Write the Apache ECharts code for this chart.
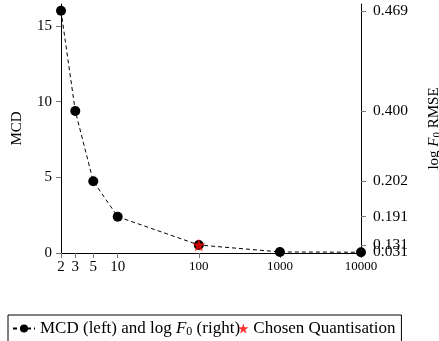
<!DOCTYPE html>
<html>
<head>
<meta charset="utf-8">
<script src="https://cdn.jsdelivr.net/npm/echarts@6/dist/echarts.min.js"></script>
<style>
  html, body { margin: 0; padding: 0; background: #fff; }
  #chart { width: 439px; height: 341px; }
</style>
</head>
<body>
<div id="chart"></div>
<script>
// quantisation levels and MCD per level
const levels = [2, 3, 5, 10, 100, 1000, 10000];
const mcd = [16.0, 9.38, 4.74, 2.4, 0.53, 0.07, 0.05];
const chosen = [[100, 0.53]];

// right axis: log F0 RMSE labels placed at MCD heights
const rmseTickAt = [16.0, 9.38, 4.74, 2.4, 0.53, 0.07];
const rmseLabels = ["0.469", "0.400", "0.202", "0.191", "0.131", "0.031"];

const xTicks = [2, 3, 5, 10, 100, 1000, 10000];
const leftTicks = [0, 5, 10, 15];

const font = "Liberation Serif";
const star = "path://M0,-1L0.2245,-0.309L0.951,-0.309L0.363,0.118L0.588,0.809L0,0.382L-0.588,0.809L-0.363,0.118L-0.951,-0.309L-0.2245,-0.309Z";
const tickStyle = { color: "#777", width: 1 };
const yMax = 16.45;
const subRich = (size) => ({
  t: { fontFamily: font, fontSize: size, color: "#000" },
  i: { fontFamily: font, fontSize: size, fontStyle: "italic", color: "#000" },
  s: { fontFamily: font, fontSize: Math.round(size * 0.7), color: "#000", verticalAlign: "bottom", padding: [7, 0, 0, 0] }
});

// the two lowest right-hand labels overlap; keep them on separate axes so neither gets dropped
function rmseAxis(ticks, withName) {
  return {
    type: "value",
    position: "right",
    min: 0,
    max: yMax,
    name: withName ? "{t|log }{i|F}{s|0}{t| RMSE}" : "",
    nameLocation: "middle",
    nameGap: 64,
    nameRotate: 90,
    nameTextStyle: { rich: subRich(15) },
    axisLine: { show: withName, lineStyle: { color: "#000", width: 1 } },
    axisTick: { show: true, length: 5, lineStyle: tickStyle, customValues: ticks },
    axisLabel: {
      customValues: ticks,
      margin: 12,
      hideOverlap: false,
      fontFamily: font,
      fontSize: 15.5,
      color: "#000",
      formatter: (v) => {
        const i = rmseTickAt.indexOf(v);
        return i >= 0 ? rmseLabels[i] : "";
      }
    },
    splitLine: { show: false }
  };
}

const chart = echarts.init(document.getElementById("chart"), null, { renderer: "canvas" });

chart.setOption({
  animation: false,
  textStyle: { fontFamily: font, color: "#000" },
  grid: { left: 61, right: 78, top: 4, bottom: 88, outerBoundsMode: "none", containLabel: false },
  xAxis: {
    type: "log",
    logBase: 10,
    min: 2,
    max: 10000,
    axisLine: { lineStyle: { color: "#000", width: 1 } },
    axisTick: { length: 5, lineStyle: tickStyle, customValues: xTicks },
    axisLabel: {
      customValues: xTicks,
      margin: 7,
      hideOverlap: false,
      formatter: (v) => (v < 50 ? "{big|" + v + "}" : "{small|" + v + "}"),
      rich: {
        big: { fontFamily: font, fontSize: 15, color: "#000" },
        small: { fontFamily: font, fontSize: 13, color: "#000" }
      }
    },
    splitLine: { show: false },
    minorTick: { show: false }
  },
  yAxis: [
    {
      type: "value",
      min: 0,
      max: yMax,
      interval: 5,
      name: "MCD",
      nameLocation: "middle",
      nameGap: 36,
      nameTextStyle: { fontFamily: font, fontSize: 15, color: "#000" },
      axisLine: { show: true, lineStyle: { color: "#000", width: 1 } },
      axisTick: { show: true, length: 5, lineStyle: tickStyle, customValues: leftTicks },
      axisLabel: { customValues: leftTicks, margin: 9, fontFamily: font, fontSize: 15, color: "#000" },
      splitLine: { show: false }
    },
    rmseAxis(rmseTickAt.slice(0, -1), true),
    rmseAxis(rmseTickAt.slice(-1), false)
  ],
  legend: {
    left: 8,
    top: 315,
    itemGap: -2,
    itemWidth: 22,
    itemHeight: 10,
    padding: [5, 6, 6, 4],
    borderColor: "#000",
    borderWidth: 1,
    borderRadius: 0,
    textStyle: { fontFamily: font, fontSize: 17, color: "#000", rich: subRich(17) },
    formatter: (name) =>
      name === "mcd" ? "{t|MCD (left) and log }{i|F}{s|0}{t| (right)}" : "{t|Chosen Quantisation}",
    data: [
      { name: "mcd" },
      { name: "chosen", itemStyle: { color: "#ff0000" }, textStyle: { padding: [0, 0, 0, -6] } }
    ]
  },
  series: [
    {
      name: "mcd",
      type: "line",
      data: levels.map((x, i) => [x, mcd[i]]),
      symbol: "circle",
      symbolSize: 10,
      itemStyle: { color: "#000" },
      lineStyle: { color: "#000", width: 1, type: [4, 3] },
      z: 2
    },
    {
      name: "chosen",
      type: "scatter",
      data: chosen,
      symbol: star,
      symbolSize: 13,
      itemStyle: { color: "#ff0000" },
      z: 3
    }
  ]
});
</script>
</body>
</html>
